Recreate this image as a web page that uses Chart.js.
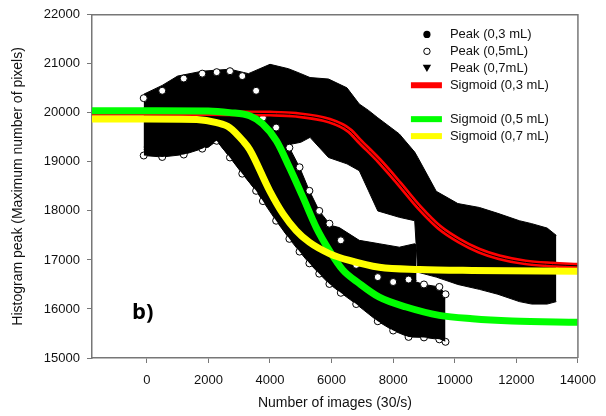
<!DOCTYPE html>
<html>
<head>
<meta charset="utf-8">
<title>Histogram peak</title>
<script src="https://cdn.jsdelivr.net/npm/chart.js@4.4.1/dist/chart.umd.min.js"></script>
<style>
  html, body { margin: 0; padding: 0; background: #fff; }
</style>
</head>
<body>
<canvas id="myChart" width="606" height="416"></canvas>
<script>
// axes
const xMin = -1780, xMax = 14000;
const yMin = 15000, yMax = 22000;
const xTicks = [0, 2000, 4000, 6000, 8000, 10000, 12000, 14000];
const yTicks = [15000, 16000, 17000, 18000, 19000, 20000, 21000, 22000];

// Peak (0,3 mL): upper / lower edge of the point cloud
const peak03X      = [-100, 500, 1000, 1800, 2700, 3300, 4000, 4600, 5000, 5300, 5900, 6500, 6900, 7200, 7500, 8200, 8700, 8800, 9400, 10100, 10800, 11400, 12100, 12500, 13000, 13300];
const peak03Top    = [20380, 20560, 20750, 20850, 20890, 20800, 20990, 20900, 20800, 20720, 20690, 20510, 20180, 20050, 19900, 19570, 19200, 19090, 18400, 18150, 18070, 17950, 17800, 17740, 17650, 17500];
const peak03Bottom = [19300, 19200, 19250, 19350, 19450, 19500, 19500, 19350, 19400, 19500, 19090, 18960, 18820, 18410, 18000, 17870, 17800, 16750, 16650, 16500, 16400, 16300, 16150, 16100, 16100, 16150];

// Peak (0,5mL)
const peak05X      = [-100, 500, 1200, 1800, 2270, 2700, 3100, 3550, 3770, 4200, 4630, 4960, 5280, 5600, 5930, 6300, 6800, 7500, 8000, 8500, 9000, 9500, 9700];
const peak05Top    = [20300, 20450, 20700, 20800, 20830, 20850, 20750, 20450, 19900, 19700, 19290, 18890, 18410, 18000, 17740, 17400, 16900, 16650, 16550, 16600, 16500, 16450, 16300];
const peak05Bottom = [19130, 19100, 19150, 19270, 19430, 19090, 18760, 18410, 18200, 17800, 17430, 17170, 16930, 16720, 16510, 16330, 16100, 15750, 15560, 15430, 15420, 15380, 15330];

// Peak (0,7mL)
const peak07X      = [-100, 1000, 2000, 2270, 2700, 3100, 3500, 4000, 4500, 5000, 5500, 6000, 6250, 6900, 7550, 8200, 8700, 8760];
const peak07Top    = [20100, 20150, 20200, 20150, 20050, 19950, 19700, 19200, 18600, 18000, 17800, 17700, 17660, 17400, 17330, 17260, 17330, 17300];
const peak07Bottom = [19250, 19200, 19300, 19430, 19100, 18780, 18450, 18050, 17550, 17200, 16900, 16700, 16620, 16560, 16550, 16500, 16550, 16580];

// fitted sigmoids
const sig03X = [-1780, 0, 2000, 4000, 4850, 5930, 6580, 6900, 7550, 8200, 8850, 9500, 10140, 10790, 11440, 12300, 13170, 14000];
const sig03Y = [20000, 20000, 19995, 19985, 19960, 19840, 19640, 19430, 19020, 18555, 18070, 17665, 17395, 17190, 17055, 16950, 16905, 16880];
const sig05X = [-1780, 0, 2000, 2690, 3340, 3760, 4210, 4630, 5070, 5500, 5930, 6360, 6900, 7550, 8420, 9500, 10570, 11860, 14000];
const sig05Y = [20045, 20045, 20040, 20005, 19940, 19775, 19430, 18890, 18280, 17665, 17190, 16800, 16520, 16240, 16040, 15870, 15800, 15755, 15730];
const sig07X = [-1780, 0, 1620, 2270, 2690, 3120, 3340, 3990, 4420, 4850, 5280, 5930, 6580, 7550, 8850, 10570, 14000];
const sig07Y = [19875, 19875, 19865, 19800, 19700, 19430, 19250, 18410, 17945, 17600, 17360, 17130, 16990, 16850, 16805, 16785, 16770];

const pts = (xs, ys) => xs.map((x, i) => ({ x: x, y: ys[i] }));

const fontName = '"Liberation Sans", Arial, sans-serif';
const red = '#ff0000', green = '#00ff00', yellow = '#ffff00';

// a point cloud is drawn as the black band between its two edges
const cloud = (data, fill, order, dotRadius) => ({
    data: data,
    fill: fill,
    backgroundColor: '#000',
    borderColor: '#000',
    borderWidth: 1,
    pointRadius: dotRadius,
    pointBackgroundColor: '#fff',
    pointBorderColor: '#000',
    pointBorderWidth: 1,
    order: order
});

const curve = (data, color, width, order) => ({
    data: data,
    fill: false,
    borderColor: color,
    borderWidth: width,
    pointRadius: 0,
    cubicInterpolationMode: 'monotone',
    order: order
});

const legendRows = [
    { text: 'Peak (0,3 mL)', kind: 'dot' },
    { text: 'Peak (0,5mL)', kind: 'ring' },
    { text: 'Peak (0,7mL)', kind: 'tri' },
    { text: 'Sigmoid (0,3 mL)', kind: 'line', color: red },
    null,
    { text: 'Sigmoid (0,5 mL)', kind: 'line', color: green },
    { text: 'Sigmoid (0,7 mL)', kind: 'line', color: yellow }
];

// box, legend and panel letter
const extras = {
    id: 'extras',
    afterDraw(chart) {
        const ctx = chart.ctx;
        const a = chart.chartArea;
        ctx.save();
        ctx.strokeStyle = '#777';
        ctx.lineWidth = 1.5;
        ctx.beginPath();
        ctx.moveTo(a.left, a.top);
        ctx.lineTo(a.right, a.top);
        ctx.lineTo(a.right, a.bottom);
        ctx.stroke();

        const mx = a.right - 151, tx = a.right - 128;
        let y = a.top + 19.6;
        ctx.font = '13px ' + fontName;
        ctx.textBaseline = 'middle';
        ctx.textAlign = 'left';
        legendRows.forEach(row => {
            if (row) {
                ctx.fillStyle = '#000';
                ctx.strokeStyle = '#000';
                ctx.lineWidth = 1;
                if (row.kind === 'dot') {
                    ctx.beginPath(); ctx.arc(mx, y, 3.6, 0, Math.PI * 2); ctx.fill();
                } else if (row.kind === 'ring') {
                    ctx.beginPath(); ctx.arc(mx, y, 3.2, 0, Math.PI * 2);
                    ctx.fillStyle = '#fff'; ctx.fill(); ctx.stroke();
                } else if (row.kind === 'tri') {
                    ctx.beginPath();
                    ctx.moveTo(mx - 4.2, y - 3.5); ctx.lineTo(mx + 4.2, y - 3.5); ctx.lineTo(mx, y + 3.8);
                    ctx.closePath(); ctx.fill();
                } else {
                    ctx.fillStyle = row.color;
                    ctx.fillRect(mx - 16, y - 3, 31, 6);
                }
                ctx.fillStyle = '#111';
                ctx.fillText(row.text, tx, y + 0.5);
            }
            y += 16.95;
        });

        ctx.fillStyle = '#000';
        ctx.font = 'bold 22px "Open Sans", sans-serif';
        ctx.textBaseline = 'alphabetic';
        ctx.fillText('b)', a.left + 40, a.bottom - 39);
        ctx.restore();
    }
};

const ctx = document.getElementById('myChart').getContext('2d');
new Chart(ctx, {
    type: 'line',
    data: {
        datasets: [
            cloud(pts(peak03X, peak03Top), '+1', 7, 0),
            cloud(pts(peak03X, peak03Bottom), false, 7, 0),
            cloud(pts(peak07X, peak07Top), '+1', 6, 0),
            cloud(pts(peak07X, peak07Bottom), false, 6, 0),
            cloud(pts(peak05X, peak05Top), '+1', 5, 3.5),
            cloud(pts(peak05X, peak05Bottom), false, 5, 3.5),
            curve(pts(sig03X, sig03Y), red, 6, 4),
            curve(pts(sig03X, sig03Y), '#000', 1, 3),
            curve(pts(sig05X, sig05Y), green, 7, 2),
            curve(pts(sig07X, sig07Y), yellow, 7, 1)
        ]
    },
    options: {
        responsive: false,
        animation: false,
        layout: { padding: { left: 10, right: 27, top: 14, bottom: 0 } },
        plugins: { legend: { display: false }, tooltip: { enabled: false } },
        elements: { line: { tension: 0 } },
        scales: {
            x: {
                type: 'linear',
                min: xMin,
                max: xMax,
                afterBuildTicks: s => { s.ticks = xTicks.map(v => ({ value: v })); },
                afterFit: s => { s.height = 58; },
                grid: { drawOnChartArea: false, tickLength: 5, color: '#777' },
                border: { color: '#777', width: 1.5 },
                ticks: { padding: 10, color: '#111', font: { family: fontName, size: 13 }, maxRotation: 0, callback: v => String(v) },
                title: { display: true, text: 'Number of images (30/s)', color: '#111', font: { family: fontName, size: 14 }, padding: { top: 0, bottom: 4 } }
            },
            y: {
                type: 'linear',
                min: yMin,
                max: yMax,
                afterBuildTicks: s => { s.ticks = yTicks.map(v => ({ value: v })); },
                afterFit: s => { s.width = 82; },
                grid: { drawOnChartArea: false, tickLength: 5, color: '#777' },
                border: { color: '#777', width: 1.5 },
                ticks: { padding: 7, color: '#111', font: { family: fontName, size: 13 }, callback: v => String(v) },
                title: { display: true, text: 'Histogram peak (Maximum number of pixels)', color: '#111', font: { family: fontName, size: 14 }, padding: { top: 0, bottom: 0 } }
            }
        }
    },
    plugins: [extras]
});
</script>
</body>
</html>
